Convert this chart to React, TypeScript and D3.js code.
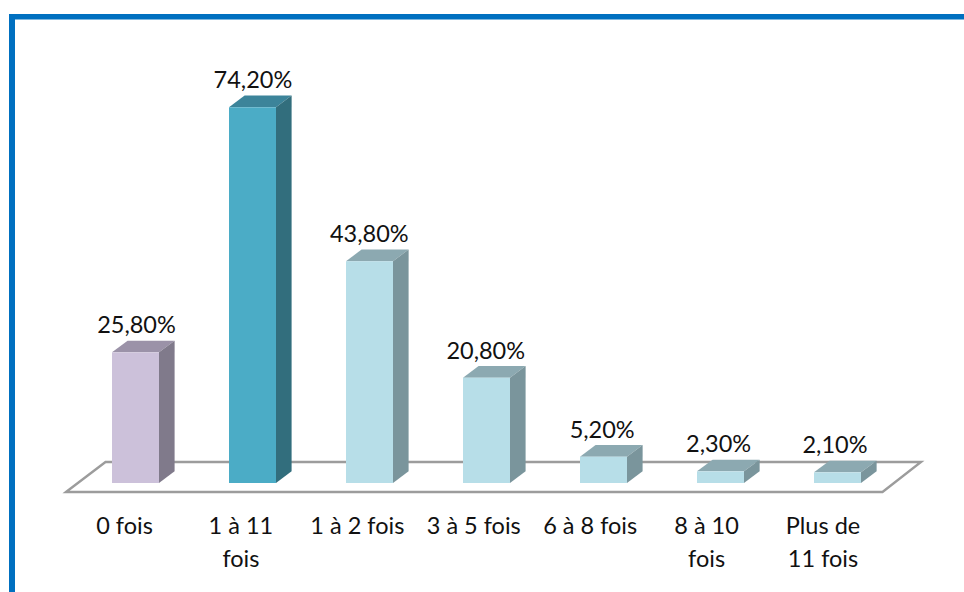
import React from "react";
import * as d3 from "d3";

const categories = ["0 fois", "1 à 11 fois", "1 à 2 fois", "3 à 5 fois", "6 à 8 fois", "8 à 10 fois", "Plus de 11 fois"];
const categoryLines = [["0 fois"], ["1 à 11", "fois"], ["1 à 2 fois"], ["3 à 5 fois"], ["6 à 8 fois"], ["8 à 10", "fois"], ["Plus de", "11 fois"]];
const values = [25.8, 74.2, 43.8, 20.8, 5.2, 2.3, 2.1];
const valueLabels = ["25,80%", "74,20%", "43,80%", "20,80%", "5,20%", "2,30%", "2,10%"];
const paletteIndex = [0, 1, 2, 2, 2, 2, 2];
const palettes = [
  { front: "#ccc1da", top: "#9b92a8", side: "#807a8b" },
  { front: "#4bacc6", top: "#3c849a", side: "#326e7d" },
  { front: "#b7dee8", top: "#8ca9b1", side: "#7a959c" },
];

const W = 964, H = 592;
const FONT = "Lato, Carlito, sans-serif";
const baseY = 483, depthX = 15.6, depthY = 11.7, barW = 47;
const y = d3.scaleLinear().domain([0, 74.2]).range([baseY, 107.3]);
const x = d3.scalePoint<string>().domain(categories).range([112, 814]);
const xValueLabel = d3.scalePoint<string>().domain(categories).range([136.5, 835]);
const xCategoryLabel = d3.scalePoint<string>().domain(categories).range([124.5, 823]);

const poly = (pts: [number, number][]) => (d3.line()(pts) ?? "") + "Z";

export default function App() {
  return (
    <svg width={W} height={H} viewBox={`0 0 ${W} ${H}`} style={{ position: "absolute", left: 0, top: 0, background: "#fff" }}>
      <rect x={9} y={14} width={W - 9} height={5.5} fill="#0070c0" />
      <rect x={9} y={14} width={6} height={H - 14} fill="#0070c0" />
      <path d={poly([[66, 492], [105.5, 462], [921, 462], [882.5, 492]])} fill="#fff" stroke="#9c9c9c" strokeWidth={2.4} strokeLinejoin="miter" />
      {categories.map((c, i) => {
        const left = x(c)!;
        const right = left + barW;
        const t = y(values[i]);
        const p = palettes[paletteIndex[i]];
        return (
          <g key={c}>
            <path d={poly([[left, t], [left + depthX, t - depthY], [right + depthX, t - depthY], [right, t]])} fill={p.top} />
            <path d={poly([[right, t], [right + depthX, t - depthY], [right + depthX, baseY - depthY], [right, baseY]])} fill={p.side} />
            <rect x={left} y={t} width={barW} height={baseY - t} fill={p.front} />
            <text x={xValueLabel(c)!} y={t - 19} textAnchor="middle" fontFamily={FONT} fontSize={23.5} fill="#111">{valueLabels[i]}</text>
            {categoryLines[i].map((line, j) => (
              <text key={j} x={xCategoryLabel(c)!} y={534 + j * 33} textAnchor="middle" fontFamily={FONT} fontSize={23.5} fill="#111">{line}</text>
            ))}
          </g>
        );
      })}
    </svg>
  );
}
